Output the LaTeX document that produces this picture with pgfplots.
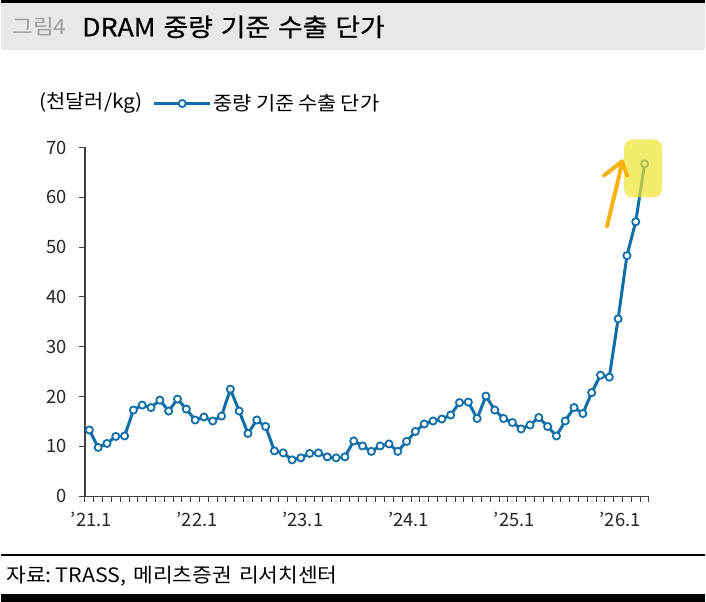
\documentclass[border=0pt]{standalone}
\usepackage{fontspec}
\setmainfont{Noto Sans CJK KR}
\newfontfamily\widefont[FakeStretch=1.08]{Noto Sans CJK KR}
\usepackage{pgfplots}
\pgfplotsset{compat=1.18}
\usepackage{pgfplotstable}
\definecolor{lineblue}{RGB}{16,110,168}
\definecolor{hl}{RGB}{240,228,50}
\definecolor{arroworange}{RGB}{247,178,20}
\definecolor{titlegrey}{RGB}{232,232,232}
\pgfplotstableread{
x y
0 13.3
1 9.8
2 10.6
3 12.0
4 12.1
5 17.3
6 18.3
7 17.8
8 19.3
9 17.1
10 19.5
11 17.5
12 15.3
13 15.9
14 15.1
15 16.1
16 21.5
17 17.1
18 12.6
19 15.3
20 14.0
21 9.1
22 8.7
23 7.3
24 7.7
25 8.6
26 8.7
27 7.9
28 7.7
29 7.9
30 11.1
31 10.1
32 9.0
33 10.1
34 10.5
35 9.0
36 11.0
37 13.0
38 14.5
39 15.1
40 15.5
41 16.3
42 18.8
43 18.9
44 15.6
45 20.1
46 17.3
47 15.6
48 14.8
49 13.5
50 14.3
51 15.8
52 14.0
53 12.1
54 15.1
55 17.8
56 16.6
57 20.8
58 24.3
59 23.9
60 35.6
61 48.3
62 55.1
63 66.7
}\mainseries
\begin{document}
\begin{tikzpicture}
\begin{scope}[x=1bp,y=1bp]
\fill[white] (0,0) rectangle (706,604);
\fill[titlegrey] (0,554) rectangle (706,601);
\fill[black] (0,601) rectangle (706,604);
\node[anchor=west,inner sep=0,text=black!38,font=\widefont\fontsize{21}{24}\selectfont] at (11,577) {그림4};
\node[anchor=west,inner sep=0,font=\widefont\fontsize{25}{28}\selectfont\addfontfeatures{FakeBold=0.6}] at (81,577)
  {DRAM\hspace{8bp}중량\hspace{8bp}기준\hspace{8bp}수출\hspace{8bp}단가};
\node[anchor=west,inner sep=0,font=\widefont\fontsize{19.5}{22}\selectfont] at (38,501) {(천달러/kg)};
\draw[line width=2.5bp] (0,47) -- (706,47);
\node[anchor=west,inner sep=0,font=\widefont\fontsize{20}{23}\selectfont] at (5,26)
  {자료:\hspace{4bp}TRASS,\hspace{7bp}메리츠증권\hspace{7bp}리서치센터};
\fill[black] (0,0) rectangle (706,8);
\end{scope}
\begin{axis}[
  at={(84bp,106bp)}, anchor=south west,
  scale only axis, width=566bp, height=350bp,
  xmin=-0.5, xmax=63.5, ymin=0, ymax=70,
  axis x line*=bottom, axis y line*=left,
  axis line style={line width=1.3bp, black!75, -},
  ytick={0,10,...,70},
  xtick={0,12,24,36,48,60},
  xticklabels={’21.1,’22.1,’23.1,’24.1,’25.1,’26.1},
  minor xtick={-0.5,0.5,...,63.5},
  tick align=outside,
  major tick length=6bp, minor tick length=6bp,
  tick style={line width=1bp, black!75},
  major x tick style={draw=none},
  ticklabel style={font=\fontsize{18.5}{21}\selectfont, text=black!85},
  /pgf/number format/assume math mode=true,
  xticklabel style={yshift=-6bp, xshift=2bp},
  yticklabel style={xshift=-9bp},
  clip=false,
  legend style={at={(0.12,1.126)}, anchor=west, draw=none, fill=none,
    inner sep=0pt, font=\widefont\fontsize{19.5}{22}\selectfont},
  legend image code/.code={\draw[mark repeat=2,mark phase=2,#1] plot coordinates {(0bp,0bp)(28bp,0bp)(56bp,0bp)};},
]
\addplot[lineblue, line width=3bp, mark=*, mark size=3.6bp,
  mark options={fill=white, draw=lineblue, line width=1.8bp}] table {\mainseries};
\addlegendentry{중량\hspace{4bp}기준\hspace{4bp}수출\hspace{4bp}단가}
\end{axis}
\begin{scope}[x=1bp,y=1bp]
\fill[hl, opacity=0.7, rounded corners=8bp] (625,406) rectangle (663,464);
\draw[arroworange, line width=4bp, line cap=round, line join=round]
  (608,377) .. controls (613,400) and (619,420) .. (623,442);
\draw[arroworange, line width=4bp, line cap=round, line join=round]
  (605,428) -- (623,442) -- (628,428);
\end{scope}
\end{tikzpicture}
\end{document}
